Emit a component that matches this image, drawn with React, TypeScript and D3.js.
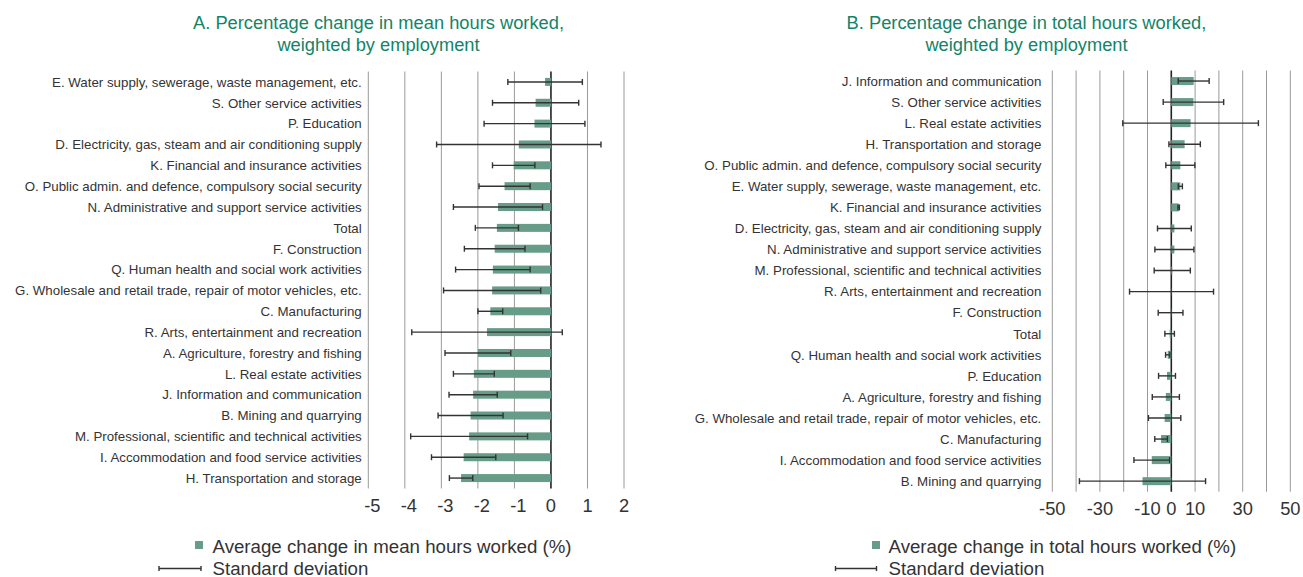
import React from "react";
import * as d3 from "d3";

const catsA = [
  "E. Water supply, sewerage, waste management, etc.",
  "S. Other service activities",
  "P. Education",
  "D. Electricity, gas, steam and air conditioning supply",
  "K. Financial and insurance activities",
  "O. Public admin. and defence, compulsory social security",
  "N. Administrative and support service activities",
  "Total",
  "F. Construction",
  "Q. Human health and social work activities",
  "G. Wholesale and retail trade, repair of motor vehicles, etc.",
  "C. Manufacturing",
  "R. Arts, entertainment and recreation",
  "A. Agriculture, forestry and fishing",
  "L. Real estate activities",
  "J. Information and communication",
  "B. Mining and quarrying",
  "M. Professional, scientific and technical activities",
  "I. Accommodation and food service activities",
  "H. Transportation and storage",
];
const meanA = [-0.16, -0.42, -0.45, -0.88, -1.02, -1.27, -1.45, -1.48, -1.54, -1.59, -1.61, -1.66, -1.75, -2.0, -2.11, -2.13, -2.2, -2.24, -2.39, -2.46];
const sdA = [1.02, 1.18, 1.38, 2.25, 0.58, 0.7, 1.22, 0.59, 0.83, 1.02, 1.33, 0.34, 2.06, 0.9, 0.56, 0.66, 0.89, 1.6, 0.88, 0.32];

const catsB = [
  "J. Information and communication",
  "S. Other service activities",
  "L. Real estate activities",
  "H. Transportation and storage",
  "O. Public admin. and defence, compulsory social security",
  "E. Water supply, sewerage, waste management, etc.",
  "K. Financial and insurance activities",
  "D. Electricity, gas, steam and air conditioning supply",
  "N. Administrative and support service activities",
  "M. Professional, scientific and technical activities",
  "R. Arts, entertainment and recreation",
  "F. Construction",
  "Total",
  "Q. Human health and social work activities",
  "P. Education",
  "A. Agriculture, forestry and fishing",
  "G. Wholesale and retail trade, repair of motor vehicles, etc.",
  "C. Manufacturing",
  "I. Accommodation and food service activities",
  "B. Mining and quarrying",
];
const meanB = [9.4, 9.3, 8.1, 5.6, 3.8, 3.8, 3.1, 1.3, 1.3, 0.4, 0.1, -0.3, -0.7, -1.5, -1.8, -2.3, -2.8, -4.3, -8.2, -12.1];
const sdB = [6.5, 12.7, 28.5, 6.6, 6.1, 0.85, 0.3, 7.1, 8.2, 7.6, 17.65, 5.2, 2.0, 0.9, 3.55, 5.7, 6.8, 2.65, 7.5, 26.5];

const gridA = [-5, -4, -3, -2, -1, 0, 1, 2];
const tickLabelsA = ["-5", "-4", "-3", "-2", "-1", "0", "1", "2"];
const gridB = [-50, -40, -30, -20, -10, 0, 10, 20, 30, 40, 50];
const tickLabelsB = ["-50", "", "-30", "", "-10", "0", "10", "", "30", "", "50"];

const titleA = ["A. Percentage change in mean hours worked,", "weighted by employment"];
const titleB = ["B. Percentage change in total hours worked,", "weighted by employment"];
const legendA = ["Average change in mean hours worked (%)", "Standard deviation"];
const legendB = ["Average change in total hours worked (%)", "Standard deviation"];

const FONT = "'Liberation Sans', Arial, Helvetica, sans-serif";
const BAR = "#669c88";
const TITLE = "#138468";
const TEXT = "#333333";

type PanelProps = {
  cats: string[];
  mean: number[];
  sd: number[];
  domain: [number, number];
  xRange: [number, number];
  yRange: [number, number];
  grid: number[];
  tickLabels: string[];
  tickY: number;
  title: string[];
  titleX: number;
  labelGap: number;
  legend: string[];
  legSquareX: number;
  legTextX: number;
  legLineX: [number, number];
  negShift: number;
};

function Panel(p: PanelProps) {
  const x = d3.scaleLinear().domain(p.domain).range(p.xRange);
  const y = d3.scaleBand<string>().domain(p.cats).range(p.yRange).padding(0);
  const bh = 8;
  const cap = 6;
  const [y0, y1] = p.yRange;
  return (
    <g>
      {p.title.map((t, i) => (
        <text key={i} x={p.titleX} y={29 + i * 21.5} textAnchor="middle" fill={TITLE} fontSize={18.3} fontFamily={FONT}>
          {t}
        </text>
      ))}
      {p.grid.map((g, i) => (
        <line
          key={"g" + i}
          x1={x(g)}
          x2={x(g)}
          y1={y0}
          y2={y1}
          stroke={g === 0 ? "#222" : "#9a9a9a"}
          strokeWidth={g === 0 ? 1.6 : 1}
        />
      ))}
      {p.cats.map((c, i) => {
        const cy = (y(c) as number) + y.bandwidth() / 2;
        const v = p.mean[i];
        const lo = v - p.sd[i];
        const hi = v + p.sd[i];
        return (
          <g key={c}>
            <text x={p.xRange[0] - p.labelGap} y={cy} dy="0.36em" textAnchor="end" fontSize={13.3} fill={TEXT} fontFamily={FONT}>
              {c}
            </text>
            <rect x={Math.min(x(v), x(0))} y={cy - bh / 2} width={Math.abs(x(v) - x(0))} height={bh} fill={BAR} />
            <line x1={x(lo)} x2={x(hi)} y1={cy} y2={cy} stroke="#333" strokeWidth={1.4} />
            <line x1={x(lo)} x2={x(lo)} y1={cy - cap / 2} y2={cy + cap / 2} stroke="#333" strokeWidth={1.4} />
            <line x1={x(hi)} x2={x(hi)} y1={cy - cap / 2} y2={cy + cap / 2} stroke="#333" strokeWidth={1.4} />
          </g>
        );
      })}
      {p.grid.map((g, i) =>
        p.tickLabels[i] ? (
          <text
            key={"t" + i}
            x={x(g) + (g < 0 ? p.negShift : 0)}
            y={p.tickY}
            textAnchor="middle"
            fontSize={18.3}
            fill={TEXT}
            fontFamily={FONT}
          >
            {p.tickLabels[i]}
          </text>
        ) : null
      )}
      <rect x={p.legSquareX} y={541} width={8} height={8} fill={BAR} />
      <text x={p.legTextX} y={552.5} fontSize={18.7} fill={TEXT} fontFamily={FONT}>
        {p.legend[0]}
      </text>
      <line x1={p.legLineX[0]} x2={p.legLineX[1]} y1={568.5} y2={568.5} stroke="#333" strokeWidth={1.4} />
      <line x1={p.legLineX[0]} x2={p.legLineX[0]} y1={566} y2={571} stroke="#333" strokeWidth={1.4} />
      <line x1={p.legLineX[1]} x2={p.legLineX[1]} y1={566} y2={571} stroke="#333" strokeWidth={1.4} />
      <text x={p.legTextX} y={575} fontSize={18.7} fill={TEXT} fontFamily={FONT}>
        {p.legend[1]}
      </text>
    </g>
  );
}

export default function App() {
  return (
    <div style={{ position: "absolute", left: 0, top: 0 }}>
      <svg width={1303} height={577} style={{ display: "block", background: "#fff" }}>
        <Panel
          cats={catsA}
          mean={meanA}
          sd={sdA}
          domain={[-5, 2]}
          xRange={[368.3, 624]}
          yRange={[71.5, 488.5]}
          grid={gridA}
          tickLabels={tickLabelsA}
          tickY={511.5}
          title={titleA}
          titleX={378.5}
          labelGap={6.6}
          legend={legendA}
          legSquareX={195}
          legTextX={212.5}
          legLineX={[159, 201]}
          negShift={4}
        />
        <Panel
          cats={catsB}
          mean={meanB}
          sd={sdB}
          domain={[-50, 50]}
          xRange={[1052.3, 1290.3]}
          yRange={[70.5, 491.7]}
          grid={gridB}
          tickLabels={tickLabelsB}
          tickY={515}
          title={titleB}
          titleX={1026.5}
          labelGap={11}
          legend={legendB}
          legSquareX={872}
          legTextX={888.5}
          legLineX={[835.5, 876.5]}
          negShift={0}
        />
      </svg>
    </div>
  );
}
